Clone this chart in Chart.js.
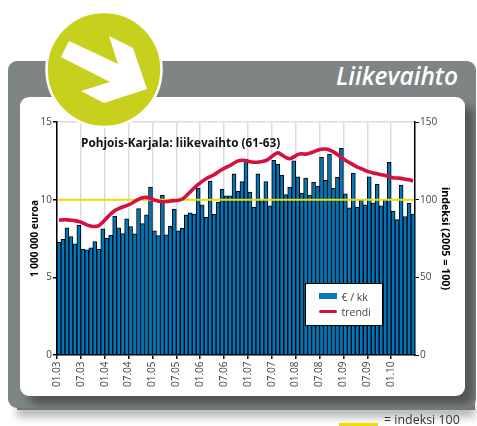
<!DOCTYPE html>
<html><head><meta charset="utf-8">
<script src="https://cdn.jsdelivr.net/npm/chart.js@4"></script>
<style>
html,body{margin:0;padding:0;background:#fff;width:477px;height:426px;overflow:hidden;font-family:"Open Sans",sans-serif}
#panel{position:absolute;left:7.5px;top:61px;width:468.5px;height:347px;background:#7f8585;border-radius:9px;overflow:hidden}
#under{position:absolute;left:17px;top:398px;width:458px;height:12px;box-shadow:0 7px 8px rgba(0,0,0,.3);background:#777}
#white{position:absolute;left:12.5px;top:36px;width:445px;height:299px;background:#fff;border-radius:9px;box-shadow:9px 9px 8px rgba(0,0,0,.36)}
canvas{position:absolute;left:0;top:0}
#logo{position:absolute;left:0;top:0}
#head{position:absolute;right:19px;top:59px;color:#fff;font:italic 600 24.5px "Open Sans",sans-serif;line-height:34px}
#ctitle{position:absolute;left:81px;top:134px;color:#111;font:bold 11.8px "Open Sans",sans-serif;line-height:16px;white-space:nowrap}
#legend{position:absolute;left:304.5px;top:282.5px;width:76px;height:41px;background:#fff;border:1.4px solid #000;font:10.5px "Open Sans",sans-serif;color:#444}
#legend i{position:absolute;left:13px;width:18px;display:block}
#legend span{position:absolute;left:36px;line-height:14px;white-space:nowrap}
#ref{position:absolute;left:384px;top:410px;font:13.5px "Open Sans",sans-serif;color:#333;line-height:18px;white-space:nowrap;transform:scaleX(.92);transform-origin:0 0}
#refline{position:absolute;left:339px;top:423px;width:39px;height:2.5px;background:#f2dc00}
</style></head><body>
<div id="under"></div>
<div id="panel"><div id="white"></div></div>
<div id="head">Liikevaihto</div>
<canvas id="c" width="477" height="426"></canvas>
<svg id="logo" width="477" height="426">
<circle cx="104" cy="69.5" r="57.5" fill="#c8d01e" stroke="#fff" stroke-width="2.5"/>
<polygon fill="#fff" points="69,41 118,64 109,36 133,48 147,89 104,103 81,91 110,82 61,57"/>
</svg>
<div id="ctitle">Pohjois-Karjala: liikevaihto (61-63)</div>
<div id="legend">
<i style="top:9.5px;height:6px;background:#0a78bd"></i><span style="top:6px">€ / kk</span>
<i style="top:26px;height:3px;border-radius:2px;background:#d3123f"></i><span style="top:21px">trendi</span>
</div>
<div id="refline"></div><div id="ref">= indeksi 100</div>
<script>
const years=['03','04','05','06','07','08','09','10'];
const months=['01','02','03','04','05','06','07','08','09','10','11','12'];
const categories=[];
years.forEach(y=>months.forEach(m=>categories.push(m+'.'+y)));
categories.length=90;
const euroMonthly=[7.26,7.44,8.18,7.63,7.16,8.35,6.82,6.77,6.9,7.3,6.8,8.12,7.52,7.71,8.95,8.18,7.82,8.76,8.27,7.8,9.42,8.46,9.02,10.81,8.0,7.69,10.28,7.73,8.29,9.4,8.0,8.16,9.02,9.15,9.08,10.75,9.66,8.87,11.2,9.06,9.85,10.68,10.24,10.24,11.67,10.53,11.17,12.6,10.49,9.53,11.67,10.0,11.17,9.6,12.54,12.29,11.56,10.32,10.81,12.5,11.47,10.43,11.39,10.3,11.13,10.88,12.74,11.24,12.93,10.75,11.43,13.31,10.38,9.47,11.71,9.51,9.96,9.66,11.47,9.79,10.98,9.6,10.0,12.41,9.27,8.72,10.94,8.91,9.76,9.08];
const trend=[86.8,87,87,86.8,86.5,85.9,85,83.8,83,82.7,83.3,85.5,88.2,90.8,92.9,94.2,95.3,96.2,97.2,98.8,100.2,101.2,101.5,100.8,99.8,99,98.7,98.8,99.1,99.4,99.6,100.4,102.5,105,107.5,109.8,111.8,113.5,114.8,116,117.8,119.4,120.8,122,123.6,124.9,125.4,125.1,124.4,124.1,124.1,124.6,125.2,126.8,128.8,130.1,128.8,127.2,126.3,127.5,129,129.6,129.3,129.9,130.8,131.8,132.5,132.6,132,130.8,129,127.2,125.4,123.9,122.4,121,119.9,118.8,117.9,117.2,116.7,116.1,115.6,114.8,114.1,113.9,113.7,113.2,112.8,112];
const index100=categories.map(()=>100);

const tickFont={family:'"Open Sans",sans-serif',size:10};
const axisFont={family:'"Open Sans",sans-serif',size:10,weight:'bold'};
const axisFontRight={family:'"Open Sans",sans-serif',size:10.7,weight:'bold'};
const zeroPad=s=>{s.paddingTop=0;s.paddingBottom=0;s.paddingLeft=0;s.paddingRight=0;};
new Chart(document.getElementById('c'),{
 type:'bar',
 data:{labels:categories,datasets:[
  {type:'line',label:'trendi',data:trend,yAxisID:'y1',borderColor:'#d3123f',borderWidth:3.6,pointRadius:0,tension:.4,order:1},
  {type:'line',label:'indeksi 100',data:index100,yAxisID:'y1',borderColor:'#f2dc00',borderWidth:2,pointRadius:0,borderCapStyle:'square',order:2},
  {label:'€ / kk',data:euroMonthly,yAxisID:'y',backgroundColor:'#0077bd',borderColor:'#000',borderWidth:1,barPercentage:1,categoryPercentage:1,order:3}
 ]},
 options:{
  responsive:false,animation:false,
  layout:{padding:{left:29,right:26,top:122,bottom:31}},
  plugins:{legend:{display:false},tooltip:{enabled:false},title:{display:false}},
  scales:{
   x:{offset:true,
    grid:{offset:true,lineWidth:1.5,tickLength:4,
      color:c=>c.index%6===0?'#dcdcdc':'rgba(0,0,0,0)',
      tickColor:c=>c.index%6===0?'#000':'rgba(0,0,0,0)'},
    border:{color:'#000',width:1.5},
    ticks:{autoSkip:false,minRotation:90,maxRotation:90,labelOffset:-2,padding:2.5,color:'#444',font:tickFont,
      callback(v,i){return i%6===0?this.getLabelForValue(v):'';}},
    afterFit(s){s.height=40;zeroPad(s);}
   },
   y:{position:'left',min:0,max:15,
    grid:{color:'#dcdcdc',lineWidth:1.5,tickLength:4,tickColor:'#000'},
    border:{color:'#000',width:1.5},
    ticks:{stepSize:5,padding:1,color:'#444',font:tickFont},
    title:{display:true,text:'1 000 000 euroa',color:'#000',font:axisFont,padding:0},
    afterFit(s){s.width=28;zeroPad(s);}
   },
   y1:{position:'right',min:0,max:150,
    grid:{drawOnChartArea:false,tickLength:4,tickColor:'#000'},
    border:{color:'#000',width:1.5},
    ticks:{stepSize:50,padding:1,color:'#444',font:tickFont},
    title:{display:true,text:'indeksi (2005 = 100)',color:'#000',font:axisFontRight,padding:0},
    afterFit(s){s.width=36;zeroPad(s);}
   }
  }
 }
});
</script>
</body></html>
